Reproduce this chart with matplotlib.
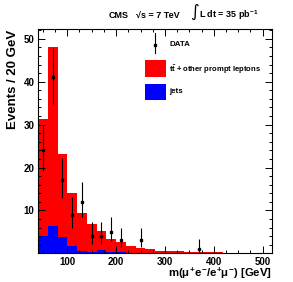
import numpy as np
import matplotlib
matplotlib.use('Agg')
import matplotlib.pyplot as plt
from matplotlib.patches import Rectangle
from matplotlib.lines import Line2D
from matplotlib.ticker import MultipleLocator

plt.rcParams['font.family'] = ['Liberation Sans', 'DejaVu Sans']
plt.rcParams['font.weight'] = 'bold'
plt.rcParams['mathtext.fontset'] = 'custom'
plt.rcParams['mathtext.rm'] = 'Liberation Sans:bold'
plt.rcParams['mathtext.it'] = 'Liberation Sans:bold'
plt.rcParams['mathtext.bf'] = 'Liberation Sans:bold'

# 20 GeV bins from 40 to 520
edges = np.arange(40, 521, 20)
# total prediction (ttbar + other prompt leptons, stacked on jets)
total = [31.3, 48.0, 23.1, 14.0, 9.4, 6.9, 5.2, 3.4, 2.7, 1.8, 1.2, 0.9,
         0.65, 0.55, 0.5, 0.4, 0.35, 0.3, 0.2, 0.15, 0.12, 0.1, 0.08, 0.05]
jets = [4.0, 6.3, 3.8, 1.7, 0.6, 0.3, 0.8, 0.2, 0.3, 0.1, 0.05, 0.05,
        0.03, 0.03, 0.02, 0.02, 0.02, 0.01, 0.01, 0.01, 0.0, 0.0, 0.0, 0.0]

# data points: bin centre, count, error interval
data_x = [50, 70, 90, 110, 130, 150, 170, 190, 210, 250, 370]
data_y = [24, 41, 17, 9, 12, 4, 4, 5, 3, 3, 1]
data_lo = [19.2, 34.8, 12.9, 5.9, 8.5, 2.1, 2.1, 2.8, 1.4, 1.4, 0.2]
data_hi = [30.0, 47.8, 22.3, 13.1, 16.6, 7.2, 7.2, 8.4, 5.9, 5.9, 3.3]

fig = plt.figure(figsize=(2.93, 2.82), dpi=100)
ax = fig.add_axes([38 / 293, 1 - 253.3 / 282, 234.3 / 293, 224.3 / 282])

ax.stairs(total, edges, fill=True, color='#ff0000', lw=0)
ax.stairs(jets, edges, fill=True, color='#0000ff', lw=0)

yerr = [np.array(data_y) - np.array(data_lo), np.array(data_hi) - np.array(data_y)]
ax.errorbar(data_x, data_y, yerr=yerr, fmt='s', ms=1.6, color='black',
            ecolor='black', elinewidth=0.8, capsize=0)

ax.set_xlim(40, 520)
ax.set_ylim(0, 52.3)
ax.xaxis.set_major_locator(MultipleLocator(100))
ax.xaxis.set_minor_locator(MultipleLocator(25))
ax.yaxis.set_major_locator(MultipleLocator(10))
ax.yaxis.set_minor_locator(MultipleLocator(2))
ax.set_yticks([10, 20, 30, 40, 50])
ax.tick_params(which='both', direction='in', top=True, right=True,
               labelsize=7, width=0.7, pad=2.5)
ax.tick_params(which='major', length=5)
ax.tick_params(which='minor', length=2.5)
for s in ax.spines.values():
    s.set_linewidth(0.8)


def fx(px):
    return px / 293


def fy(py):
    return 1 - py / 282


# axis titles
fig.text(fx(272), fy(276.5), r'm($\mu^{+}e^{-}/e^{+}\mu^{-}$) [GeV]', fontsize=8.2,
         fontweight='bold', ha='right', va='baseline')
fig.text(fx(13), fy(30), 'Events / 20 GeV', fontsize=9.5, fontweight='bold',
         rotation=90, ha='center', va='top')

# header
fig.text(fx(109), fy(18), 'CMS', fontsize=6.5, fontweight='bold', va='baseline')
fig.text(fx(136), fy(18), '\u221as = 7 TeV', fontsize=6.5, fontweight='bold',
         va='baseline')
fig.text(fx(190), fy(11.5), '\u222b', fontsize=12, fontweight='normal',
         family='DejaVu Sans', va='center')
fig.text(fx(199), fy(18), 'L dt = 35 pb$^{-1}$', fontsize=6.5,
         fontweight='bold', va='baseline')

# legend
fig.add_artist(Line2D([fx(155), fx(155)], [fy(33), fy(53)], color='black', lw=0.8))
fig.add_artist(Line2D([fx(155)], [fy(44.5)], marker='s', ms=1.6, color='black'))
fig.text(fx(170), fy(45), 'DATA', fontsize=5.7, fontweight='bold', va='center')
fig.add_artist(Rectangle((fx(145), fy(77)), fx(21), 17 / 282, color='#ff0000', lw=0))
fig.text(fx(169), fy(70), r'$t\bar{t}$ + other prompt leptons', fontsize=5.5,
         fontweight='bold', va='center')
fig.add_artist(Rectangle((fx(145), fy(100)), fx(21), 16 / 282, color='#0000ff', lw=0))
fig.text(fx(169), fy(91), 'jets', fontsize=5.7, fontweight='bold', va='center')

fig.savefig('out.png', dpi=100)
